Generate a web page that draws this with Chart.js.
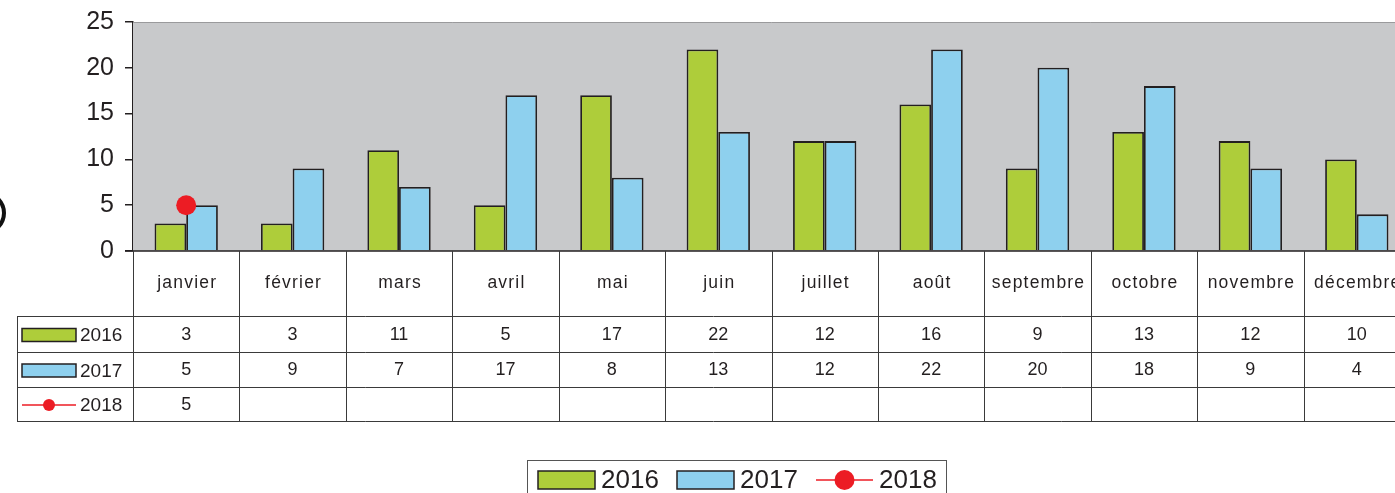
<!DOCTYPE html>
<html>
<head>
<meta charset="utf-8">
<script src="https://cdn.jsdelivr.net/npm/chart.js@4/dist/chart.umd.min.js"></script>
<style>
html,body{margin:0;padding:0;background:#fff;overflow:hidden;}
#wrap{width:1420px;height:493px;}
</style>
</head>
<body>
<div id="wrap"><canvas id="c" width="1420" height="493"></canvas></div>
<script>
const categories = ['janvier','février','mars','avril','mai','juin','juillet','août','septembre','octobre','novembre','décembre'];
const series2016 = [3,3,11,5,17,22,12,16,9,13,12,10];
const series2017 = [5,9,7,17,8,13,12,22,20,18,9,4];
const series2018 = [5,null,null,null,null,null,null,null,null,null,null,null];
const seriesNames = ['2016','2017','2018'];
const yTicks = [0,5,10,15,20,25];

const GREEN = '#aecd3a', BLUE = '#8ed0ee', RED = '#ec1c24', DARK = '#231f20';
const FONT = '"Liberation Sans", Arial, sans-serif';

function drawSymbol(ctx, kind, x, y, w, h, r) {
  ctx.save();
  if (kind === 2) {
    ctx.strokeStyle = RED; ctx.lineWidth = 1.5;
    ctx.beginPath(); ctx.moveTo(x, y); ctx.lineTo(x + w, y); ctx.stroke();
    ctx.fillStyle = RED; ctx.beginPath(); ctx.arc(x + w / 2, y, r, 0, Math.PI * 2); ctx.fill();
  } else {
    ctx.fillStyle = kind === 0 ? GREEN : BLUE;
    ctx.fillRect(x, y - h / 2, w, h);
    ctx.strokeStyle = DARK; ctx.lineWidth = 1.5;
    ctx.strokeRect(x, y - h / 2, w, h);
  }
  ctx.restore();
}

const decoPlugin = {
  id: 'deco',
  beforeDatasetsDraw(chart) {
    const { ctx, chartArea: a } = chart;
    ctx.save();
    ctx.fillStyle = '#c8c9cb';
    ctx.fillRect(a.left, a.top, a.right - a.left, a.bottom - a.top);
    ctx.strokeStyle = '#9a9a9c'; ctx.lineWidth = 1;
    ctx.beginPath(); ctx.moveTo(a.left, a.top + 0.5); ctx.lineTo(a.right, a.top + 0.5); ctx.stroke();
    ctx.restore();
  },
  afterDraw(chart) {
    const { ctx, chartArea: a } = chart;
    const xs = chart.scales.x;
    const step = xs.getPixelForValue(1) - xs.getPixelForValue(0);
    const rows = [a.bottom, a.bottom + 65, a.bottom + 101, a.bottom + 136, a.bottom + 170];
    const leftCol = 17;
    ctx.save();
    ctx.strokeStyle = DARK; ctx.lineWidth = 1.5;
    ctx.beginPath(); ctx.moveTo(a.left - 8, a.bottom); ctx.lineTo(a.right, a.bottom); ctx.stroke();
    ctx.strokeStyle = '#3a3a3a'; ctx.lineWidth = 1;
    for (let r = 1; r < rows.length; r++) {
      ctx.beginPath(); ctx.moveTo(leftCol, Math.round(rows[r]) + 0.5); ctx.lineTo(a.right, Math.round(rows[r]) + 0.5); ctx.stroke();
    }
    ctx.beginPath(); ctx.moveTo(leftCol + 0.5, rows[1]); ctx.lineTo(leftCol + 0.5, rows[4]); ctx.stroke();
    for (let i = 0; i <= categories.length; i++) {
      const bx = Math.round(xs.getPixelForValue(0) - step / 2 + i * step) + 0.5;
      ctx.beginPath(); ctx.moveTo(bx, a.bottom); ctx.lineTo(bx, rows[4]); ctx.stroke();
    }
    ctx.fillStyle = DARK;
    ctx.textAlign = 'center'; ctx.textBaseline = 'middle';
    ctx.font = '17.5px ' + FONT;
    ctx.letterSpacing = '1.2px';
    categories.forEach((c, i) => {
      ctx.fillText(c, xs.getPixelForValue(i) + 1, a.bottom + 32);
    });
    ctx.letterSpacing = '0px';
    ctx.font = '18px ' + FONT;
    const all = [series2016, series2017, series2018];
    all.forEach((s, r) => {
      const cy = (rows[r + 1] + rows[r + 2]) / 2 + 1;
      s.forEach((v, i) => {
        if (v !== null) ctx.fillText(String(v), xs.getPixelForValue(i), cy);
      });
      drawSymbol(ctx, r, 22, cy, 54, 13, 6);
      ctx.textAlign = 'left';
      ctx.font = '19px ' + FONT;
      ctx.fillText(seriesNames[r], 80, cy + 1);
      ctx.font = '18px ' + FONT;
      ctx.textAlign = 'center';
    });
    ctx.strokeStyle = '#555'; ctx.lineWidth = 1;
    ctx.strokeRect(527.5, 460.5, 419, 40);
    const ly = 480;
    ctx.textAlign = 'left';
    ctx.font = '26px ' + FONT;
    drawSymbol(ctx, 0, 538, ly, 57, 18, 10);
    ctx.fillText(seriesNames[0], 601, ly + 1);
    drawSymbol(ctx, 1, 677, ly, 57, 18, 10);
    ctx.fillText(seriesNames[1], 740, ly + 1);
    drawSymbol(ctx, 2, 816, ly, 57, 18, 10);
    ctx.fillText(seriesNames[2], 879, ly + 1);
    ctx.strokeStyle = '#111'; ctx.lineWidth = 4;
    ctx.beginPath(); ctx.arc(-16, 213, 20, 0, Math.PI * 2); ctx.stroke();
    ctx.restore();
  }
};

new Chart(document.getElementById('c'), {
  data: {
    labels: categories,
    datasets: [
      { type: 'bar', label: seriesNames[0], data: series2016, backgroundColor: GREEN, borderColor: DARK, borderWidth: 1.8, order: 1,
        categoryPercentage: 0.595, barPercentage: 1.0 },
      { type: 'bar', label: seriesNames[1], data: series2017, backgroundColor: BLUE, borderColor: DARK, borderWidth: 1.8, order: 1,
        categoryPercentage: 0.595, barPercentage: 1.0 },
      { type: 'line', label: seriesNames[2], data: series2018, backgroundColor: RED, borderColor: RED, borderWidth: 1.5,
        pointRadius: 10, pointBorderWidth: 0, showLine: true, order: 0 }
    ]
  },
  options: {
    responsive: false,
    animation: false,
    layout: { padding: { top: 22, bottom: 242, left: 0, right: 3 } },
    plugins: { legend: { display: false }, tooltip: { enabled: false } },
    scales: {
      x: { display: false },
      y: {
        min: 0, max: 25,
        afterBuildTicks(scale) { scale.ticks = yTicks.map(v => ({ value: v })); },
        afterFit(scale) { scale.width = 133; scale.paddingTop = 0; },
        ticks: { color: DARK, font: { size: 25, family: FONT }, padding: 11 },
        grid: { drawOnChartArea: false, tickLength: 8, color: DARK, lineWidth: 1.5 },
        border: { display: true, color: DARK, width: 1.5 }
      }
    }
  },
  plugins: [decoPlugin]
});
</script>
</body>
</html>
